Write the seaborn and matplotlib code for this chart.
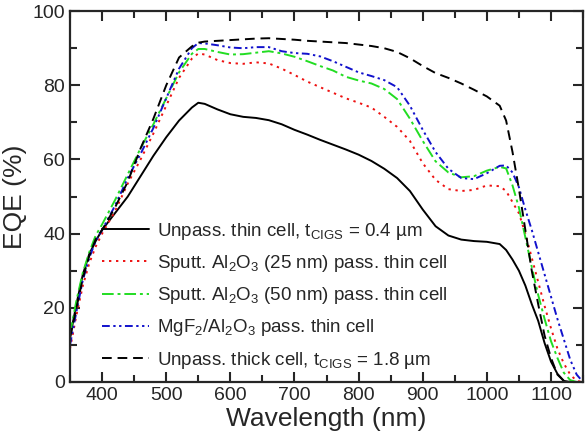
import matplotlib
matplotlib.use('Agg')
import matplotlib.pyplot as plt
import seaborn as sns
import pandas as pd
from matplotlib.ticker import MultipleLocator

# wavelength grid (nm) and EQE (%)
wl = [350, 360, 370, 380, 390, 400, 420, 440, 460, 480, 500, 520, 540, 550, 560, 580,
      600, 620, 640, 660, 680, 700, 720, 740, 760, 780, 800, 820, 840, 860, 880, 900,
      920, 940, 960, 980, 1000, 1020, 1030, 1040, 1050, 1060, 1070, 1080, 1090, 1100,
      1110, 1120, 1130, 1140, 1150]

thin = [12, 21, 29, 34.5, 38, 41, 45.5, 50, 55.5, 61, 66, 70.5, 74, 75.3, 75, 73.5,
        72.2, 71.5, 71.2, 70.6, 69.5, 68, 66.7, 65.3, 64, 62.7, 61.3, 59.6, 57.5, 55, 51.5, 46.5,
        42, 39.5, 38.4, 38, 37.8, 37.2, 35.6, 33, 30, 26, 21, 16.5, 10.5, 5.5,
        2.2, 0.3, 0, 0, 0]

al25 = [9, 18, 26, 32, 36.5, 40, 46, 53.5, 60, 67, 74.5, 82, 87.2, 88.6, 88.3, 86.8,
        86, 85.8, 86.2, 85.9, 84.5, 82.8, 81, 79.5, 78, 76.5, 75.3, 74, 71.5, 68.8, 65, 59,
        54.5, 52, 51.5, 51.8, 53, 52.8, 51.5, 48.5, 45.5, 40, 33.5, 27, 20.5, 14.5,
        9, 5, 2, 0.3, 0]

al50 = [13, 22, 29.5, 35, 39.5, 42.5, 49, 56, 63, 69.5, 76.5, 83.5, 88.5, 89.8, 89.8, 89,
        88.3, 88.4, 88.8, 89.2, 88.6, 87.7, 86.5, 85.2, 84, 82.3, 81.3, 80.5, 79, 76.3, 71, 65,
        59.5, 56.5, 55.2, 55.5, 57, 58, 57.6, 53, 47, 39, 31, 23.5, 17, 11,
        6.5, 2.5, 0.5, 0, 0]

mgf2 = [10, 19, 27.5, 33.5, 38, 41, 47.5, 55, 61.5, 68.5, 76.5, 84.5, 90, 91.4, 91.3, 90.8,
        90.2, 90, 90.3, 90.3, 89.2, 88.7, 88.5, 87.8, 86.5, 85, 83.5, 82.5, 81.4, 79.5, 74.5, 68,
        62, 57.5, 55, 54.7, 56.3, 58.3, 58.4, 56.5, 52.5, 46.5, 41, 35, 29, 23,
        17, 11.5, 6, 2, 0]

thick = [12, 20, 28, 34, 38.5, 41, 47, 54, 63, 71, 80, 87.5, 90.5, 91.5, 91.8, 92,
         92.2, 92.4, 92.6, 92.7, 92.5, 92.3, 92, 91.8, 91.6, 91.4, 91, 90.6, 90, 89, 87.3, 85.2,
         83.3, 82, 80.5, 78.8, 77, 74.5, 70.5, 62, 52, 41, 30, 21, 12.5, 6.5,
         2, 0.3, 0, 0, 0]

labels = [
    'Unpass. thin cell, t$_{\\mathrm{CIGS}}$ = 0.4 µm',
    'Sputt. Al$_2$O$_3$ (25 nm) pass. thin cell',
    'Sputt. Al$_2$O$_3$ (50 nm) pass. thin cell',
    'MgF$_2$/Al$_2$O$_3$ pass. thin cell',
    'Unpass. thick cell, t$_{\\mathrm{CIGS}}$ = 1.8 µm',
]
series = [thin, al25, al50, mgf2, thick]
colors = ['black', '#ee1111', '#22dd22', '#1111cc', 'black']
styles = ['-', (0, (1.2, 2.4)), (0, (6, 2, 1.5, 2)), (0, (4, 1.8, 1.2, 1.8, 1.2, 1.8)), (0, (5, 3))]

sns.set_style('ticks')
plt.rcParams['font.family'] = ['Liberation Sans', 'DejaVu Sans']
plt.rcParams['mathtext.fontset'] = 'custom'
plt.rcParams['mathtext.rm'] = 'Liberation Sans'
plt.rcParams['mathtext.it'] = 'Liberation Sans:italic'
plt.rcParams['mathtext.bf'] = 'Liberation Sans:bold'

fig = plt.figure(figsize=(5.86, 4.46), dpi=100)
ax = fig.add_axes([0.1195, 0.1435, 0.8755, 0.8315])

for y, lab, c, ls in zip(series, labels, colors, styles):
    df = pd.DataFrame({'Wavelength': wl, 'EQE': y})
    sns.lineplot(data=df, x='Wavelength', y='EQE', ax=ax, color=c, linestyle=ls,
                 linewidth=1.4, label=lab)

ax.set_xlim(350, 1150)
ax.set_ylim(0, 100)
ax.xaxis.set_major_locator(MultipleLocator(100))
ax.xaxis.set_minor_locator(MultipleLocator(50))
ax.yaxis.set_major_locator(MultipleLocator(20))
ax.yaxis.set_minor_locator(MultipleLocator(10))
ax.tick_params(which='both', direction='in', top=True, right=True, width=1.5, labelsize=14)
ax.tick_params(which='major', length=7)
ax.tick_params(which='minor', length=5)
for s in ax.spines.values():
    s.set_linewidth(1.6)

ax.set_xlabel('Wavelength (nm)', fontsize=19, labelpad=2)
ax.set_ylabel('EQE (%)', fontsize=19, labelpad=4)

ax.legend(loc='upper left', bbox_to_anchor=(0.062, 0.435), frameon=False, fontsize=13.5,
          handlelength=2.5, handletextpad=0.45, labelspacing=0.6, borderpad=0, borderaxespad=0)

fig.savefig('out.png', dpi=100)
